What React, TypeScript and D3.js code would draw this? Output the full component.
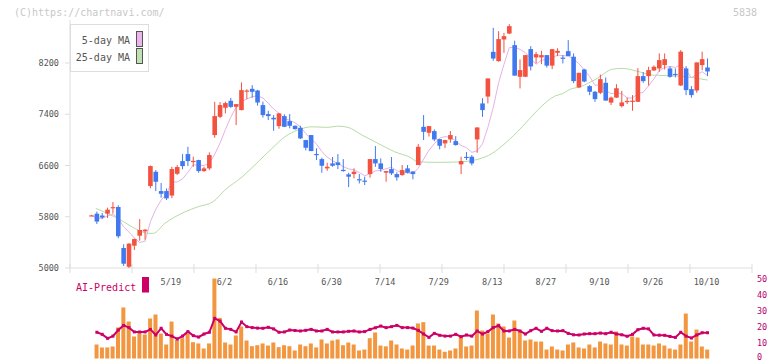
import React from 'react';
import * as d3 from 'd3';

// daily candles (index 0 .. 115), red = up, blue = down
const opens = [5820, 5848, 5819, 5848, 5945, 5952, 5312, 5020, 5348, 5504, 5572, 6279, 6502, 6201, 6201, 6131, 6471, 6669, 6778, 6665,
  6685, 6513, 6555, 7075, 7360, 7501, 7610, 7516, 7465, 7760, 7797, 7771, 7543, 7402, 7345, 7215, 7371, 7293, 7220, 7189,
  6997, 7075, 6780, 6700, 6555, 6633, 6648, 6532, 6462, 6466, 6386, 6364, 6466, 6700, 6633, 6488, 6544, 6466, 6451, 6555,
  6507, 6607, 7204, 7111, 7137, 7012, 6945, 7007, 6981, 6618, 6735, 6737, 7007, 7569, 7676, 8374, 8229, 8567, 8660, 8479,
  7985, 7985, 8417, 8287, 8287, 8323, 8159, 8359, 8284, 8385, 8298, 7819, 8099, 7839, 7751, 7735, 7891, 7582, 7660, 7527,
  7600, 7608, 7594, 7995, 7995, 8083, 8115, 8167, 8115, 8030, 7850, 8115, 7792, 7771, 8167, 8130];
const highs = [5830, 5880, 5858, 5942, 6030, 5978, 5370, 5390, 5460, 5764, 5608, 6600, 6529, 6326, 6243, 6580, 6607, 6778, 6892, 6737,
  6690, 6580, 6805, 7594, 7590, 7597, 7656, 7558, 7897, 7792, 7855, 7780, 7597, 7454, 7387, 7420, 7400, 7402, 7225, 7220,
  7000, 7075, 6868, 6721, 6643, 6732, 6778, 6700, 6487, 6555, 6466, 6425, 6700, 6903, 6711, 6515, 6732, 6493, 6607, 6607,
  6510, 6934, 7387, 7215, 7163, 7015, 7000, 7137, 7059, 6737, 6810, 6763, 7194, 7650, 7959, 8749, 8697, 8671, 8806, 8549,
  8256, 8323, 8463, 8374, 8390, 8325, 8416, 8430, 8323, 8557, 8350, 8047, 8110, 7855, 7761, 8020, 7974, 7676, 7870, 7766,
  7660, 7699, 8120, 8058, 8141, 8162, 8349, 8349, 8151, 8115, 8401, 8151, 7839, 8209, 8377, 8271];
const lows = [5815, 5686, 5764, 5780, 5850, 5465, 5031, 5000, 5280, 5426, 5442, 6243, 6201, 6097, 6061, 6090, 6451, 6540, 6591, 6580,
  6487, 6500, 6529, 7033, 7340, 7413, 7500, 7231, 7460, 7636, 7657, 7535, 7348, 7309, 7142, 7173, 7200, 7180, 7160, 7012,
  6836, 6825, 6685, 6487, 6518, 6580, 6544, 6503, 6263, 6399, 6320, 6295, 6409, 6580, 6503, 6347, 6451, 6363, 6440, 6477,
  6384, 6607, 6997, 7052, 6981, 6852, 6871, 6955, 6910, 6466, 6685, 6602, 6799, 7360, 7569, 8236, 8221, 8359, 8650, 8003,
  7803, 7980, 8083, 8193, 8182, 8129, 8104, 8307, 8193, 8370, 7886, 7808, 7900, 7699, 7594, 7714, 7613, 7543, 7655, 7507,
  7560, 7455, 7590, 7891, 7847, 8078, 8063, 8099, 7970, 7975, 7840, 7699, 7659, 7735, 8089, 7995];
const closes = [5822, 5725, 5788, 5910, 5950, 5495, 5067, 5380, 5452, 5593, 5598, 6591, 6346, 6159, 6087, 6544, 6576, 6591, 6669, 6672,
  6513, 6555, 6763, 7371, 7543, 7574, 7516, 7558, 7777, 7770, 7750, 7583, 7387, 7371, 7320, 7413, 7204, 7220, 7168, 7023,
  6877, 6825, 6775, 6596, 6580, 6596, 6607, 6527, 6425, 6503, 6382, 6360, 6700, 6633, 6544, 6513, 6477, 6415, 6529, 6487,
  6466, 6892, 7126, 7215, 7007, 6908, 6997, 7075, 6919, 6669, 6730, 6633, 7194, 7465, 7959, 8270, 8573, 8619, 8775, 8003,
  8089, 8323, 8146, 8338, 8323, 8159, 8416, 8390, 8279, 8307, 7917, 8047, 7911, 7751, 7636, 7948, 7613, 7660, 7806, 7585,
  7608, 7612, 7995, 7917, 8089, 8141, 8245, 8260, 7985, 8022, 8377, 7777, 7699, 8209, 8260, 8068];

// 25-day moving average: candle index -> value
const ma25Idx = [0.8, 4.9, 8.7, 10.5, 11.5, 13.7, 17.5, 19.9, 22.7, 24.9, 28.1, 31.1, 33.7, 36.1, 38.5, 41.2, 44.1, 46, 47.9, 50.5,
  53.5, 56.6, 59.5, 60.9, 64.7, 68.4, 72.1, 74.8, 77.2, 80.4, 81.9, 83.3, 86.5, 88, 89.3, 91.2, 94.4, 97.3, 99.2, 101.8,
  104.8, 109.8, 115];
const ma25Val = [5931, 5775, 5593, 5541, 5541, 5697, 5878, 5956, 6034, 6217, 6420, 6658, 6867, 7048, 7153, 7204, 7195, 7215, 7195, 7075,
  6945, 6814, 6727, 6658, 6649, 6654, 6696, 6789, 6945, 7204, 7340, 7465, 7683, 7725, 7788, 7828, 7959, 8104, 8115, 8073,
  8011, 7995, 7933];

// lower panel, index 1 .. 115
const volumes = [8.75, 6.9, 6.9, 7.5, 19.4, 31.9, 23.1, 13.75, 15.8, 15, 25, 27.5, 15.6, 8.75, 23.1, 11.5, 12.7, 15.6, 10.2, 9.4,
  6.25, 9.4, 50, 25.4, 10, 8.75, 14.4, 20, 11.25, 7.7, 8.3, 9.4, 8.1, 10, 7.1, 8.3, 7.7, 5, 8.75, 7.7,
  9.4, 6.9, 11.9, 9.4, 11.25, 11.9, 8.3, 10, 8.75, 5, 5.6, 12.7, 16.25, 8.1, 7.6, 11.25, 8.75, 6.25, 5.6, 8.1,
  21.9, 22.7, 8.1, 8.1, 5.6, 4.2, 5, 6.25, 14.4, 7.5, 8.1, 30, 17.5, 15.6, 27.5, 21.9, 20, 13.1, 23.75, 16.9,
  11.25, 11.9, 10.6, 10.6, 5.6, 7.5, 5.6, 5, 8.75, 10, 6.9, 6.25, 8.75, 6.9, 10.6, 9.4, 8.75, 16.9, 8.75, 8.1,
  13.75, 13.1, 8.75, 8.75, 8.1, 9.4, 8.1, 6.25, 5.6, 8.75, 28.1, 10.6, 18.1, 7.5, 5.6];
const aiPredict = [16.4, 15.1, 12.6, 14, 17.8, 20.7, 19.3, 16.6, 16.6, 16.6, 18.2, 14.7, 18.9, 15.1, 14, 12.2, 14, 16.8, 14.3, 13.4,
  15.3, 16.4, 25.1, 23.4, 18.9, 18.2, 16.6, 22.8, 19.9, 19.3, 19, 18.9, 19.5, 18.5, 16.4, 16.6, 17.8, 17.5, 17.2, 17.6,
  18.2, 17.2, 17.2, 18.2, 16.6, 16.6, 16.6, 17, 17.2, 16.6, 16.8, 18.2, 19.2, 20.3, 19.3, 19.9, 20.7, 19.3, 19.3, 19,
  17.6, 15.3, 13.2, 15.7, 14.5, 14, 14, 15.1, 13.6, 14.7, 14, 17.2, 15.3, 16.8, 19.3, 20.5, 17.2, 17.2, 18.2, 17.2,
  15.3, 17.4, 18.9, 17, 18.9, 17.4, 17.2, 17.4, 15.7, 14.8, 14.7, 15.3, 15.5, 15.5, 15.9, 15.5, 16.4, 15.3, 14.8, 13.9,
  15.1, 18, 18.9, 18.5, 14.7, 14.6, 14.5, 13.8, 13.2, 16.4, 14, 12.8, 14.7, 16.1, 16.1];

const dateLabels = ['5/19', '6/2', '6/16', '6/30', '7/14', '7/29', '8/13', '8/27', '9/10', '9/26', '10/10'];
const dateIdx = [15, 25, 35, 45, 55, 65, 75, 85, 95, 105, 115];
const priceTicks = [5000, 5800, 6600, 7400, 8200];
const volTicks = [0, 10, 20, 30, 40, 50];

const W = 772, H = 361;
const RED = '#f2523f', BLUE = '#4079ef', AXIS = '#dddddd', MAG = '#cc0066';
const MONO = '"DejaVu Sans Mono", monospace';

export default function App() {
  const x = d3.scaleLinear().domain([0, closes.length - 1]).range([91.5, 707.5]);
  const y = d3.scaleLinear().domain([5000, 8200]).range([268, 63]);
  const v = d3.scaleLinear().domain([0, 50]).range([358.5, 278.5]);
  const tickX = d3.scaleLinear().domain([0, 11]).range([70, 752]);

  // 5-day MA from closes
  const ma5 = closes.map((_, i) => d3.mean(closes.slice(Math.max(0, i - 4), i + 1)) as number);
  const ma5Line = d3.line<number>().x((_, i) => x(i)).y(d => y(d));
  const ma25Line = d3.line<number>().x((_, i) => x(ma25Idx[i])).y(d => y(d)).curve(d3.curveMonotoneX);
  const aiLine = d3.line<number>().x((_, i) => x(i + 1)).y(d => v(d));

  const bw = 4.6;

  return (
    <svg width={W} height={H} style={{ position: 'absolute', left: 0, top: 0, background: '#fff' }}>
      <text x={14} y={16} fontFamily={MONO} fontSize={10} fill="#c8c8c8">(C)https://chartnavi.com/</text>
      <text x={757} y={16} fontFamily={MONO} fontSize={10} fill="#c8c8c8" textAnchor="end">5838</text>

      {/* axes */}
      <line x1={70} x2={70} y1={20} y2={268} stroke={AXIS} />
      <line x1={70} x2={752} y1={268} y2={268} stroke={AXIS} />
      {d3.range(12).map(k => (
        <line key={k} x1={tickX(k)} x2={tickX(k)} y1={264} y2={273} stroke={AXIS} />
      ))}
      {priceTicks.map(p => (
        <g key={p}>
          <line x1={65} x2={70} y1={y(p)} y2={y(p)} stroke={AXIS} />
          <text x={59} y={y(p) + 3} fontFamily={MONO} fontSize={8.5} fill="#555" textAnchor="end">{p}</text>
        </g>
      ))}
      {dateLabels.map((d, i) => (
        <text key={d} x={x(dateIdx[i]) - 1} y={285} fontFamily={MONO} fontSize={8.5} fill="#555" textAnchor="middle">{d}</text>
      ))}

      {/* moving averages */}
      <path d={ma25Line(ma25Val) || ''} fill="none" stroke="#b6dca6" strokeWidth={1} />
      <path d={ma5Line(ma5) || ''} fill="none" stroke="#e6b2e6" strokeWidth={1} />

      {/* candles */}
      {closes.map((c, i) => {
        const o = opens[i];
        const col = c >= o ? RED : BLUE;
        const top = y(Math.max(o, c));
        const h = Math.max(1.2, y(Math.min(o, c)) - top);
        return (
          <g key={i}>
            <line x1={x(i)} x2={x(i)} y1={y(highs[i])} y2={y(lows[i])} stroke={col} strokeWidth={1} />
            <rect x={x(i) - bw / 2} y={top} width={bw} height={h} fill={col} />
          </g>
        );
      })}

      {/* legend */}
      <rect x={70.5} y={24.5} width={78} height={47} fill="#fff" stroke={AXIS} />
      <text x={130} y={44} fontFamily={MONO} fontSize={10} fill="#555" textAnchor="end">5-day MA</text>
      <text x={130} y={61} fontFamily={MONO} fontSize={10} fill="#555" textAnchor="end">25-day MA</text>
      <rect x={136.5} y={31.5} width={6} height={15} fill="#ecb6ec" stroke="#555" />
      <rect x={136.5} y={48.5} width={6} height={15} fill="#bfe3b0" stroke="#555" />

      {/* lower panel */}
      <text x={76} y={291} fontFamily={MONO} fontSize={10} fill={MAG}>AI-Predict</text>
      <rect x={142} y={277} width={7} height={15.5} fill={MAG} />
      {volumes.map((val, i) => (
        <rect key={i} x={x(i + 1) - 2.3} y={v(val)} width={4} height={v(0) - v(val)} fill="#f2973f" />
      ))}
      <path d={aiLine(aiPredict) || ''} fill="none" stroke={MAG} strokeWidth={2} />
      {aiPredict.map((val, i) => (
        <rect key={i} x={x(i + 1) - 1.5} y={v(val) - 1.5} width={3} height={3} fill={MAG} />
      ))}
      {volTicks.map(t => (
        <text key={t} x={757} y={Math.min(v(t) + 3, 359.5)} fontFamily={MONO} fontSize={8.5} fill="#b8006b">{t}</text>
      ))}
    </svg>
  );
}
